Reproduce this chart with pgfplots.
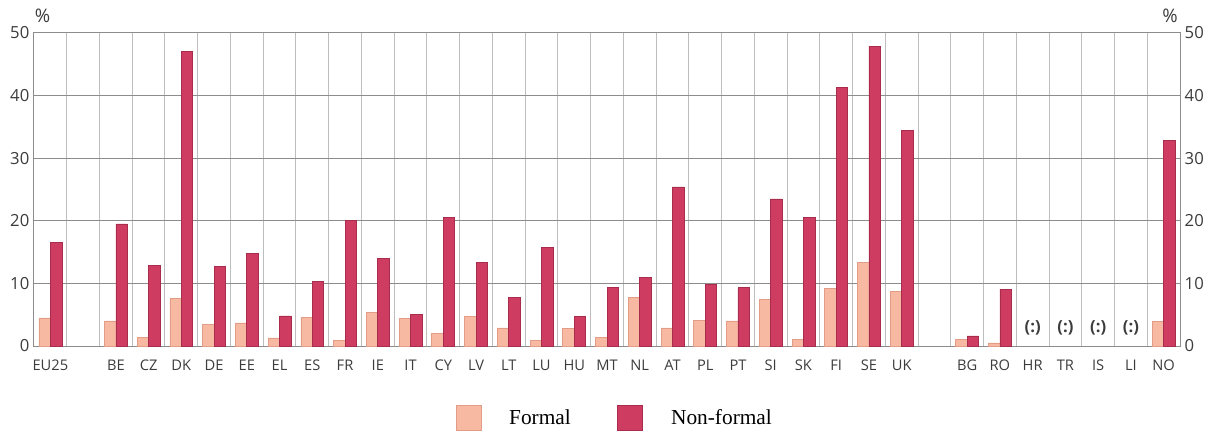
\documentclass[border=0pt]{standalone}
\usepackage{pgfplots}
\pgfplotsset{compat=1.18}
\usepackage{fontspec}
\setmainfont{Liberation Serif}
\newfontfamily\lblfont{Open Sans}
\usetikzlibrary{calc}

\definecolor{formal}{HTML}{F8B9A3}
\definecolor{formaledge}{HTML}{E39C86}
\definecolor{nonformal}{HTML}{CE3C62}
\definecolor{nonformaledge}{HTML}{A82D4D}
\definecolor{vgrid}{HTML}{BDBDBD}
\definecolor{hgrid}{HTML}{8C8C8C}
\definecolor{lbl}{HTML}{3C3C3C}

\tikzset{na/.style={font=\lblfont\bfseries\fontsize{12.5}{14}\selectfont, text=lbl}}
\pgfplotsset{
  sqlegend/.style={legend image code/.code={\draw[##1] (0pt,-9.4pt) rectangle (18.75pt,9.4pt);}},
  common/.style={
    scale only axis,
    width=859.5pt, height=234.75pt,
    xmin=-0.5, xmax=34.5,
    ymin=0, ymax=50,
    ytick={0,10,...,50},
    /pgf/number format/assume math mode=true,
    yticklabel style={font=\lblfont\fontsize{12.5}{14}\selectfont, text=lbl},
    major tick length=0pt, minor tick length=0pt,
  },
}

\begin{document}
\begin{tikzpicture}
\begin{axis}[
  common,
  name=main,
  axis line style={hgrid, line width=0.75pt},
  xtick={0,2,3,...,26,28,29,...,34},
  xticklabels={EU25,BE,CZ,DK,DE,EE,EL,ES,FR,IE,IT,CY,LV,LT,LU,HU,MT,NL,AT,PL,PT,SI,SK,FI,SE,UK,BG,RO,HR,TR,IS,LI,NO},
  xticklabel style={font=\lblfont\fontsize{11}{12}\selectfont, text=lbl, yshift=-7pt},
  minor xtick={-0.5,0.5,...,34.5},
  xminorgrids=true,
  minor x grid style={vgrid, line width=0.75pt},
  ymajorgrids=true,
  major y grid style={hgrid, line width=0.75pt},
  legend style={draw=none, at={(axis description cs:0.507,-0.23)}, anchor=center,
    legend columns=2, font=\fontsize{16}{18}\selectfont,
    /tikz/every odd column/.append style={column sep=19pt},
    /tikz/every even column/.append style={column sep=33pt}},
]
\addplot[ybar, bar width=8.6pt, bar shift=-4.3pt, fill=formal, draw=formaledge, line width=0.5pt, sqlegend]
coordinates {
  (0,4.5) (2,4.0) (3,1.4) (4,7.6) (5,3.5) (6,3.7) (7,1.3) (8,4.6) (9,0.9) (10,5.3)
  (11,4.4) (12,2.0) (13,4.7) (14,2.9) (15,0.9) (16,2.8) (17,1.4) (18,7.8) (19,2.9)
  (20,4.1) (21,4.0) (22,7.5) (23,1.0) (24,9.2) (25,13.3) (26,8.7)
  (28,1.1) (29,0.5) (34,3.9)
};
\addlegendentry{Formal}
\addplot[ybar, bar width=8.6pt, bar shift=4.3pt, fill=nonformal, draw=nonformaledge, line width=0.5pt, sqlegend]
coordinates {
  (0,16.5) (2,19.5) (3,12.9) (4,47.1) (5,12.7) (6,14.8) (7,4.8) (8,10.3) (9,20.1) (10,14.0)
  (11,5.0) (12,20.5) (13,13.4) (14,7.7) (15,15.8) (16,4.7) (17,9.4) (18,11.0) (19,25.4)
  (20,9.8) (21,9.3) (22,23.5) (23,20.5) (24,41.3) (25,47.9) (26,34.5)
  (28,1.6) (29,9.1) (34,32.9)
};
\addlegendentry{Non-formal}
\node[na] at (axis cs:30,2.9) {(:)};
\node[na] at (axis cs:31,2.9) {(:)};
\node[na] at (axis cs:32,2.9) {(:)};
\node[na] at (axis cs:33,2.9) {(:)};
\end{axis}
\begin{axis}[
  common,
  hide x axis,
  axis y line*=right,
  y axis line style={draw=none},
]
\end{axis}
\node[font=\lblfont\fontsize{14}{16}\selectfont, text=lbl] at ($(main.north west)+(6.5pt,12.75pt)$) {\%};
\node[font=\lblfont\fontsize{14}{16}\selectfont, text=lbl] at ($(main.north east)+(-7.5pt,12.75pt)$) {\%};
\pgfresetboundingbox
\path ($(main.south west)+(-25.5pt,-64.5pt)$) rectangle ($(main.north east)+(23.25pt,24.75pt)$);
\end{tikzpicture}
\end{document}
